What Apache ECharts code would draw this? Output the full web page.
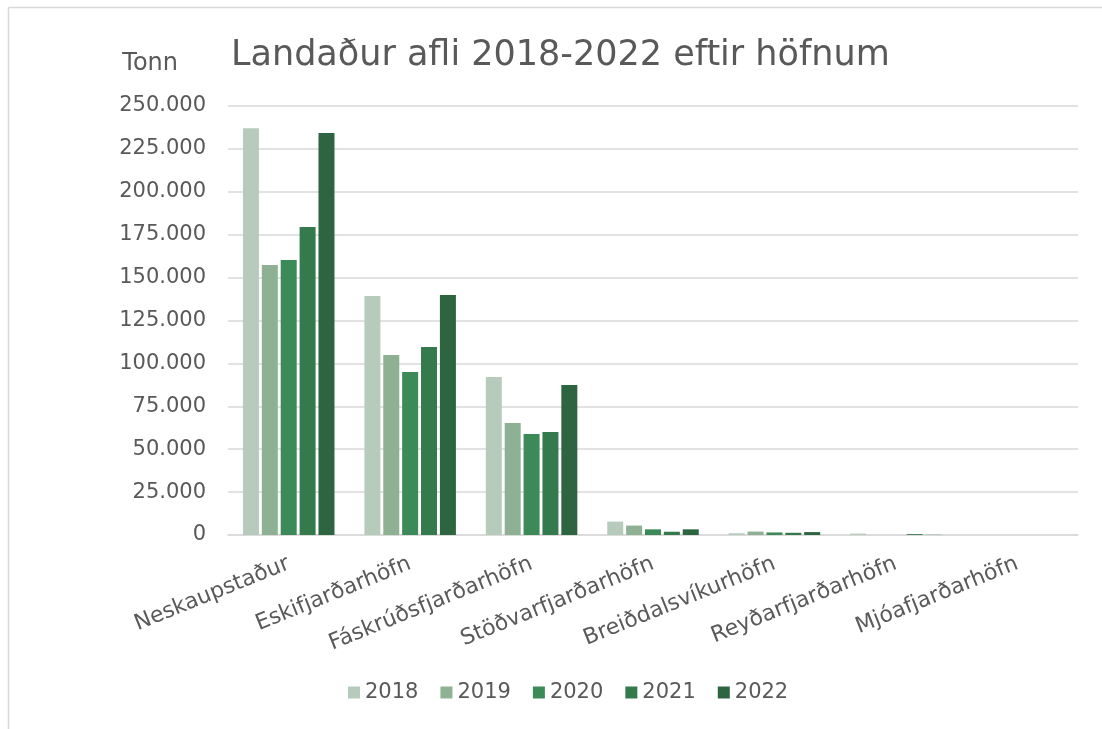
<!DOCTYPE html>
<html>
<head>
<meta charset="utf-8">
<script src="https://cdn.jsdelivr.net/npm/echarts@6/dist/echarts.min.js"></script>
<style>
  html, body { margin: 0; padding: 0; background: #fff; overflow: hidden; }
  #chart { width: 1102px; height: 729px; }
</style>
</head>
<body>
<div id="chart"></div>
<script>
// Landaður afli eftir höfnum, tonn
const categories = ['Neskaupstaður', 'Eskifjarðarhöfn', 'Fáskrúðsfjarðarhöfn', 'Stöðvarfjarðarhöfn', 'Breiðdalsvíkurhöfn', 'Reyðarfjarðarhöfn', 'Mjóafjarðarhöfn'];
const years = ['2018', '2019', '2020', '2021', '2022'];
const afli2018 = [237000, 139300, 92100, 7800, 1000, 800, 0];
const afli2019 = [157300, 104900, 65300, 5500, 2000, 0, 0];
const afli2020 = [160300, 95000, 58900, 3300, 1500, 0, 0];
const afli2021 = [179500, 109600, 60000, 1900, 1300, 500, 0];
const afli2022 = [234300, 139900, 87400, 3300, 1700, 100, 0];
const yTicks = { min: 0, max: 250000, interval: 25000 };

const seriesData = [afli2018, afli2019, afli2020, afli2021, afli2022];
const colors = ['#B7CBBD', '#8FB193', '#3C8A57', '#357A4C', '#2C653F'];
const fontFamily = '"DejaVu Sans", sans-serif';
const textColor = '#595959';
const frameColor = '#d9d9d9';

const fmt = v => v === 0 ? '0' : String(v).replace(/\B(?=(\d{3})+(?!\d))/g, '.');

const chart = echarts.init(document.getElementById('chart'));
chart.setOption({
  animation: false,
  textStyle: { fontFamily: fontFamily },
  color: colors,
  // chart frame: left and top edges
  graphic: [
    { type: 'line', shape: { x1: 8.5, y1: 7.5, x2: 1102, y2: 7.5 }, style: { stroke: frameColor, lineWidth: 1.5 }, silent: true },
    { type: 'line', shape: { x1: 8.5, y1: 7.5, x2: 8.5, y2: 729 }, style: { stroke: frameColor, lineWidth: 1.5 }, silent: true }
  ],
  title: {
    text: 'Landaður afli 2018-2022 eftir höfnum',
    left: 226,
    top: 33,
    textStyle: { fontFamily: fontFamily, fontSize: 35, fontWeight: 'normal', color: textColor }
  },
  legend: {
    data: years,
    bottom: 21,
    left: 343,
    itemWidth: 12,
    itemHeight: 12,
    itemGap: 22,
    icon: 'rect',
    textStyle: { fontFamily: fontFamily, fontSize: 21, color: textColor }
  },
  grid: { left: 228, right: 24, top: 106, bottom: 194, containLabel: false },
  xAxis: {
    type: 'category',
    data: categories,
    axisLine: { lineStyle: { color: frameColor, width: 1.5 } },
    axisTick: { show: false },
    axisLabel: {
      rotate: 22,
      interval: 0,
      margin: 28,
      fontSize: 22,
      color: textColor,
      fontFamily: fontFamily
    }
  },
  yAxis: {
    type: 'value',
    name: 'Tonn',
    nameLocation: 'end',
    nameGap: 30,
    nameTextStyle: { fontSize: 24, color: textColor, align: 'right', padding: [0, 50, 0, 0], fontFamily: fontFamily },
    min: yTicks.min,
    max: yTicks.max,
    interval: yTicks.interval,
    axisLine: { show: false },
    axisTick: { show: false },
    splitLine: { lineStyle: { color: frameColor, width: 1.5 } },
    axisLabel: {
      formatter: fmt,
      fontSize: 21,
      margin: 22,
      color: textColor,
      fontFamily: fontFamily
    }
  },
  series: years.map((y, i) => ({
    name: y,
    type: 'bar',
    data: seriesData[i],
    barWidth: 16,
    barGap: '18%',
    itemStyle: { color: colors[i] }
  }))
});
</script>
</body>
</html>
